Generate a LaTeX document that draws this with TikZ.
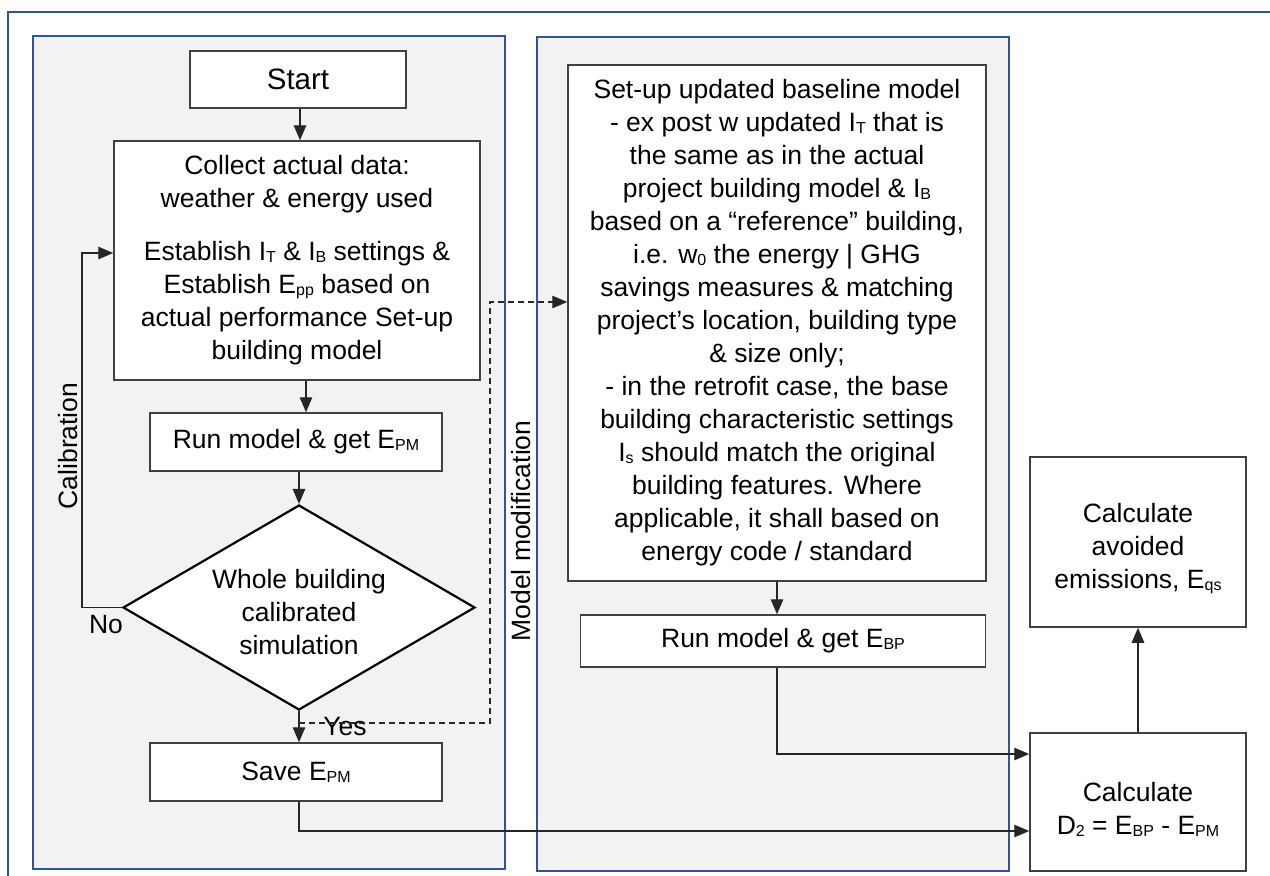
\documentclass[tikz,border=0pt]{standalone}
\usepackage{fontspec}
\setmainfont{Liberation Sans}
\usetikzlibrary{arrows.meta,shapes.geometric}
\definecolor{frameblue}{RGB}{47,85,151}
\definecolor{panelfill}{RGB}{242,242,242}
\definecolor{boxc}{RGB}{64,64,64}
\definecolor{linec}{RGB}{38,38,38}
\newcommand\subx[1]{\raisebox{-2pt}{\fontsize{16}{16}\selectfont #1}}
\begin{document}
\begin{tikzpicture}[x=1pt,y=-1pt,
  font=\fontsize{26.5}{33}\selectfont,
  panel/.style={draw=frameblue, line width=2.2pt, fill=panelfill, inner sep=0pt, anchor=north west},
  box/.style={draw=boxc, line width=1.5pt, fill=white, align=center, inner sep=0pt},
  arr/.style={draw=linec, line width=1.3pt, -{Triangle[length=15pt,width=12.5pt]}},
  dsh/.style={dashed, dash pattern=on 6pt off 4pt, line width=1.2pt},
  lbl/.style={inner sep=0pt, text=black}]
\useasboundingbox (0,0) rectangle (1270,876);
\fill[white] (0,0) rectangle (1270,876);
\draw[frameblue, line width=2.5pt] (8,890) -- (8,12) -- (1285,12);
% panels
\node[panel, minimum width=472pt, minimum height=833pt] (lpanel) at (32,35) {};
\node[panel, minimum width=472pt, minimum height=834pt] (rpanel) at (536,36) {};
% left column
\node[box, minimum width=216pt, minimum height=57pt, font=\fontsize{29.5}{33}\selectfont] (start) at (298,79.5) {Start};
\node[box, minimum width=366pt, minimum height=239pt] (collect) at (297,260.5)
  {Collect actual data:\\weather \& energy used\\[20pt]Establish I\subx{T} \& I\subx{B} settings \&\\Establish E\subx{pp} based on\\actual performance Set-up\\building model};
\node[box, minimum width=292pt, minimum height=58pt] (runpm) at (296,442) {Run model \& get E\subx{PM}};
\node[box, shape=diamond, minimum width=352pt, minimum height=205pt, draw=black, line width=2.2pt,
  label={[align=center, yshift=-5pt]center:Whole building\\calibrated\\simulation}] (dia) at (299,607.5) {};
\node[box, minimum width=292pt, minimum height=58pt] (save) at (296,772) {Save E\subx{PM}};
% right column
\node[box, minimum width=418pt, minimum height=516pt] (setup) at (777,323)
  {Set-up updated baseline model\\- ex post w updated I\subx{T} that is\\the same as in the actual\\project building model \& I\subx{B}\\based on a “reference” building,\\i.e. w\subx{0} the energy | GHG\\savings measures \& matching\\project’s location, building type\\\& size only;\\- in the retrofit case, the base\\building characteristic settings\\I\subx{s} should match the original\\building features. Where\\applicable, it shall based on\\energy code / standard};
\node[box, minimum width=405pt, minimum height=52pt] (runbp) at (783,641) {Run model \& get E\subx{BP}};
\node[box, minimum width=216pt, minimum height=170pt,
  label={[align=center, yshift=-7pt]center:Calculate\\avoided\\emissions, E\subx{qs}}] (avoid) at (1138,542) {};
\node[box, minimum width=216pt, minimum height=138pt,
  label={[align=center, yshift=-7pt]center:Calculate\\D\subx{2} = E\subx{BP} - E\subx{PM}}] (d2) at (1138,802) {};
% labels
\node[lbl, rotate=90] (calib) at (68,446) {Calibration};
\node[lbl, rotate=90] (modmod) at (521,531) {Model modification};
\node[lbl] (no) at (106,625) {No};
\node[lbl] (yes) at (345,727) {Yes};
% helper coordinates
\coordinate (calx) at (82,400);
\coordinate (dshc) at (490,723);
% connectors
\draw[arr] (start.south -| 300,0) -- (collect.north -| 300,0);
\draw[arr] ([xshift=9pt]collect.south) -- ([xshift=10pt]runpm.north);
\draw[arr] (runpm.south -| dia.north) -- (dia.north);
\draw[arr] (dia.south) -- (save.north -| dia.south);
\draw[arr] (dia.west) -- (dia.west -| calx) |- ([yshift=7.5pt]collect.west);
\draw[arr, dsh] (dia.south |- dshc) -- (dshc) |- ([yshift=21pt]setup.west);
\draw[arr] (setup.south) -- (setup.south |- runbp.north);
\draw[arr] (runbp.south -| setup.south) |- ([yshift=48pt]d2.west);
\draw[arr] (save.south -| dia.south) |- ([yshift=-29pt]d2.west);
\draw[arr] (d2.north) -- (avoid.south);
\end{tikzpicture}
\end{document}
